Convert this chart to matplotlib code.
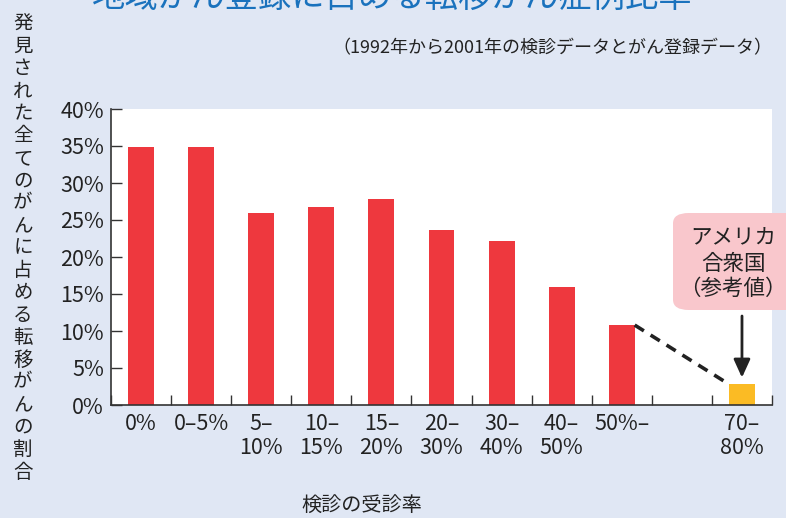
import matplotlib
matplotlib.use("Agg")
import matplotlib.pyplot as plt
from matplotlib.patches import FancyBboxPatch

plt.rcParams['font.family'] = ['Liberation Sans Narrow', 'Noto Sans CJK JP', 'DejaVu Sans']
cjk = ['Noto Sans CJK JP', 'DejaVu Sans']

# data
categories = ['0%', '0–5%', '5–\n10%', '10–\n15%', '15–\n20%', '20–\n30%',
              '30–\n40%', '40–\n50%', '50%–', '', '70–\n80%']
values = [34.8, 34.8, 25.9, 26.8, 27.9, 23.7, 22.1, 15.9, 10.8, None, 2.8]
usa_index = 10
yticks = [0, 5, 10, 15, 20, 25, 30, 35, 40]

bg = '#e0e7f4'
red = '#ee383e'
yellow = '#fbbb24'
ink = '#222222'

fig = plt.figure(figsize=(7.86, 5.18), dpi=100, facecolor=bg)
ax = fig.add_axes([111/786, 1 - 405/518, (772-111)/786, (405-109)/518])
ax.set_facecolor('white')

w = 0.43
for i, v in enumerate(values):
    if v is None:
        continue
    ax.bar(i, v, width=w, color=yellow if i == usa_index else red, zorder=2)

ax.set_xlim(-0.5, len(categories) - 0.5)
ax.set_ylim(0, 40)

ax.set_xticks(range(len(categories)))
ax.set_xticklabels(categories, fontsize=15.5, color=ink, linespacing=1.1)
ax.tick_params(axis='x', which='major', length=0, pad=6)
ax.set_xticks([i - 0.5 for i in range(len(categories) + 1)], minor=True)
ax.tick_params(axis='x', which='minor', direction='in', length=7, width=1, color='#333')

ax.set_yticks(yticks)
ax.set_yticklabels([f'{t}%' for t in yticks], fontsize=15.5, color=ink)
ax.tick_params(axis='y', direction='in', length=8, width=1, color='#333', pad=5)

for s in ['top', 'right']:
    ax.spines[s].set_visible(False)
for s in ['left', 'bottom']:
    ax.spines[s].set_color('#333')
    ax.spines[s].set_linewidth(1.2)

# dashed connector from the last Japanese bar to the US bar
ax.plot([8 + w/2, usa_index - w/2], [values[8], values[usa_index]],
        ls=(0, (3, 2.2)), lw=2.6, color=ink, zorder=3)

# reference box
box = FancyBboxPatch((673/786, 1 - 310/518), 140/786, 97/518,
                     boxstyle='round,pad=0,rounding_size=0.02',
                     transform=fig.transFigure, facecolor='#f9c7cc',
                     edgecolor='none', zorder=0)
fig.patches.append(box)
fig.text(733/786, 1 - 264/518, 'アメリカ\n合衆国\n（参考値）', ha='center', va='center',
         fontsize=15.5, color=ink, linespacing=1.2, family=cjk)

ax.annotate('', xy=(usa_index, 3.7), xytext=(742/786, 1 - 316/518),
            textcoords='figure fraction',
            arrowprops=dict(arrowstyle='-|>,head_width=0.5,head_length=1.1',
                            lw=2, color=ink, shrinkA=0, shrinkB=0))

# titles and labels
fig.text(392/786, 1 + 3/518, '地域がん登録に占める転移がん症例比率', ha='center', va='center',
         fontsize=24, color='#1a72bd', family=cjk)
fig.text(772/786, 1 - 48/518, '（1992年から2001年の検診データとがん登録データ）',
         ha='right', va='center', fontsize=13, color=ink)
fig.text(362/786, 1 - 505/518, '検診の受診率', ha='center', va='center',
         fontsize=14.5, color=ink, family=cjk)

ylab = '発見された全てのがんに占める転移がんの割合'
for k, ch in enumerate(ylab):
    fig.text(23/786, 1 - (24 + k * 22.4)/518, ch, ha='center', va='center',
             fontsize=14, color=ink, family=cjk)

fig.savefig('out.png', dpi=100, facecolor=bg)
